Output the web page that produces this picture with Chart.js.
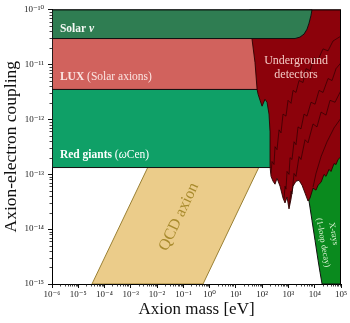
<!DOCTYPE html>
<html>
<head>
<meta charset="utf-8">
<script src="https://cdn.jsdelivr.net/npm/chart.js@4.4.1/dist/chart.umd.min.js"></script>
<style>
  html, body { margin: 0; padding: 0; background: #fff; }
  #wrap { width: 350px; height: 323px; }
</style>
</head>
<body>
<div id="wrap"><canvas id="c"></canvas></div>
<script>
// Axis decades (powers of ten)
const massTickExponents = [-6, -5, -4, -3, -2, -1, 0, 1, 2, 3, 4, 5];
const couplingTickExponents = [-15, -14, -13, -12, -11, -10];

// Excluded regions: outlines in (axion mass [eV], axion-electron coupling)
const solarNuMass     = [1e-6, 1.78e3, 2.75e3, 3.92e3, 5.09e3, 6.07e3, 7.23e3, 7.89e3, 1e-6, 1e-6];
const solarNuCoupling = [2.95e-11, 2.95e-11, 3.13e-11, 3.55e-11, 4.37e-11, 5.6e-11, 7.8e-11, 1e-10, 1e-10, 2.95e-11];

const luxMass     = [1e-6, 1e3, 1e3, 1e-6, 1e-6];
const luxCoupling = [3.49e-12, 3.49e-12, 2.95e-11, 2.95e-11, 3.49e-12];

const redGiantMass     = [1e-6, 1e3, 1e3, 1e-6, 1e-6];
const redGiantCoupling = [1.32e-13, 1.32e-13, 3.49e-12, 3.49e-12, 1.32e-13];

const undergroundMass = [
  34, 1e5, 1e5, 7.71e4, 6.47e4, 5.43e4, 4.17e4, 3.5e4, 2.69e4, 2.26e4, 1.74e4, 1.34e4,
  1.12e4, 8.61e3, 6.62e3, 5.56e3, 4.28e3, 3.29e3, 2.52e3, 1.94e3, 1.49e3, 1.25e3, 1.05e3,
  883, 740, 621, 478, 367, 308, 259, 217, 199, 199, 182, 153, 128, 99, 83, 70, 64, 53.4, 41, 34, 34
];
const undergroundCoupling = [
  1e-10, 1e-10, 2.09e-13, 1.85e-13, 1.5e-13, 1.56e-13, 1.12e-13, 1.22e-13, 9.12e-14, 9.91e-14, 7.13e-14, 6.3e-14,
  5.12e-14, 5.56e-14, 3.67e-14, 3.24e-14, 4.52e-14, 6.3e-14, 7.73e-14, 7.43e-14, 6.04e-14, 3.52e-14, 2.33e-14,
  3.83e-14, 2.99e-14, 3.67e-14, 6.04e-14, 8.39e-14, 6.56e-14, 7.43e-14, 9.12e-14, 1.38e-13, 5.89e-13, 1.24e-12,
  2.04e-12, 2.31e-12, 1.73e-12, 2.21e-12, 2.84e-12, 3.49e-12, 1.07e-11, 2.88e-11, 5.6e-11, 1e-10
];

// Individual detector limits overlapping inside the underground region
const limitAMass = [217, 237, 282, 308, 367, 438, 521, 621, 807, 964, 1253, 1493, 1941, 2523, 3586, 4667,
                    6623, 9397, 1.34e4, 2.07e4, 3.21e4, 4.97e4, 1e5];
const limitACoupling = [1.03e-13, 1.7e-13, 1.5e-13, 3.16e-13, 2.79e-13, 6.4e-13, 5.65e-13, 1.24e-12, 1.14e-12,
                        2.21e-12, 1.95e-12, 3.35e-12, 3.08e-12, 5.07e-12, 4.67e-12, 8.34e-12, 7.67e-12,
                        1.32e-11, 1.21e-11, 1.91e-11, 1.76e-11, 2.66e-11, 3.27e-11];
const limitBMass = [679, 740, 807, 883, 1052, 1148, 1368, 1630, 1941, 2312, 3006, 3920, 5093, 7228,
                    1.03e4, 1.46e4, 2.07e4, 3.21e4, 4.56e4, 6.47e4, 1e5];
const limitBCoupling = [3.52e-14, 6.04e-14, 5.33e-14, 1.12e-13, 9.91e-14, 2.0e-13, 1.85e-13, 3.89e-13, 3.44e-13,
                        7.25e-13, 6.67e-13, 1.24e-12, 1.14e-12, 2.04e-12, 1.88e-12, 3.35e-12, 3.08e-12,
                        5.51e-12, 5.07e-12, 8.34e-12, 1.07e-11];
const limitCMass = [1052, 1253, 1368, 1630, 1941, 2523, 3006, 4275, 5559, 8610, 1.22e4, 1.74e4, 2.69e4,
                    3.82e4, 5.93e4, 1e5];
const limitCCoupling = [2.64e-14, 4.91e-14, 4.34e-14, 1.03e-13, 9.12e-14, 2.09e-13, 1.85e-13, 4.23e-13,
                        3.73e-13, 8.2e-13, 7.25e-13, 1.35e-12, 1.19e-12, 2.21e-12, 2.04e-12, 3.35e-12];
const limitDMass     = [8610, 1.12e4, 1.74e4, 2.94e4, 5.43e4, 1e5];
const limitDCoupling = [5.79e-14, 1.03e-13, 2.09e-13, 3.89e-13, 6.95e-13, 1.05e-12];

const xrayMass     = [1e5, 1e5, 1.9e4, 1.59e4, 1.34e4, 1.03e4, 7.89e3, 6.07e3, 4.28e3, 3e4, 1e5];
const xrayCoupling = [3e-13, 1e-15, 1e-15, 1.64e-15, 2.7e-15, 6.18e-15, 1.42e-14, 3.24e-14, 6.04e-14, 3e-13, 3e-13];

// QCD axion band (coupling grows linearly with mass)
const qcdMass     = [3.33e-5, 0.56, 560, 3.33e-2, 3.33e-5];
const qcdCoupling = [1e-15, 1e-15, 1e-12, 1e-12, 1e-15];

const SERIF = "'Liberation Serif', 'DejaVu Serif', serif";
const SUP = {'-': '\u207B', '0': '\u2070', '1': '\u00B9', '2': '\u00B2', '3': '\u00B3',
             '4': '\u2074', '5': '\u2075', '6': '\u2076', '7': '\u2077', '8': '\u2078', '9': '\u2079'};
const powerLabel = v => '10' + String(Math.round(Math.log10(v))).split('').map(ch => SUP[ch]).join('');

const pts = (m, g) => m.map((v, i) => ({x: v, y: g[i]}));
const region = (label, m, g, fillColor, lineColor, width) => ({
  label, data: pts(m, g), showLine: true, fill: 'shape', tension: 0,
  backgroundColor: fillColor, borderColor: lineColor, borderWidth: width,
  pointRadius: 0, pointHoverRadius: 0
});
const limit = (label, m, g) => ({
  label, data: pts(m, g), showLine: true, fill: false, tension: 0,
  borderColor: 'rgba(35,0,0,0.7)', borderWidth: 0.9, pointRadius: 0, pointHoverRadius: 0
});

// Minor ticks, plot frame and in-plot labels
const decor = {
  id: 'decor',
  afterDatasetsDraw(chart) {
    const {ctx, chartArea: a, scales: {x, y}} = chart;
    ctx.save();
    ctx.strokeStyle = '#111';
    ctx.lineWidth = 0.8;
    ctx.beginPath();
    for (let n = massTickExponents[0]; n < massTickExponents[massTickExponents.length - 1]; n++) {
      for (let k = 2; k <= 9; k++) {
        const px = Math.round(x.getPixelForValue(k * 10 ** n)) + 0.5;
        ctx.moveTo(px, a.bottom); ctx.lineTo(px, a.bottom + 2.5);
      }
    }
    for (let n = couplingTickExponents[0]; n < couplingTickExponents[couplingTickExponents.length - 1]; n++) {
      for (let k = 2; k <= 9; k++) {
        const py = Math.round(y.getPixelForValue(k * 10 ** n)) + 0.5;
        ctx.moveTo(a.left - 2.5, py); ctx.lineTo(a.left, py);
      }
    }
    ctx.stroke();

    ctx.strokeStyle = '#000';
    ctx.lineWidth = 1;
    ctx.beginPath();
    ctx.moveTo(a.left, a.top + 0.5); ctx.lineTo(a.right - 0.5, a.top + 0.5); ctx.lineTo(a.right - 0.5, a.bottom);
    ctx.stroke();

    const runs = (parts, px, py) => {
      for (const [text, font, color] of parts) {
        ctx.font = font; ctx.fillStyle = color;
        ctx.fillText(text, px, py);
        px += ctx.measureText(text).width;
      }
    };
    ctx.textBaseline = 'middle';
    ctx.textAlign = 'left';
    const lx = x.getPixelForValue(2e-6);
    runs([['Solar ', 'bold 11.5px ' + SERIF, '#f4f8f4'], ['\u03BD', 'bold italic 11.5px ' + SERIF, '#f4f8f4']],
         lx, y.getPixelForValue(4.37e-11));
    runs([['LUX', 'bold 11.5px ' + SERIF, '#fbe4e1'], [' (Solar axions)', '11.5px ' + SERIF, '#fbe4e1']],
         lx, y.getPixelForValue(5.98e-12));
    runs([['Red giants', 'bold 11.5px ' + SERIF, '#ffffff'], [' (', '11.5px ' + SERIF, '#ffffff'],
          ['\u03C9', 'italic 11.5px ' + SERIF, '#ffffff'], ['Cen)', '11.5px ' + SERIF, '#ffffff']],
         lx, y.getPixelForValue(2.27e-13));

    ctx.textAlign = 'center';
    ctx.font = '12px ' + SERIF;
    ctx.fillStyle = '#f2c9c4';
    ctx.fillText('Underground', x.getPixelForValue(1.94e3), y.getPixelForValue(1.16e-11));
    ctx.fillText('detectors', x.getPixelForValue(1.94e3), y.getPixelForValue(6.5e-12));

    // QCD label follows the slope of the band
    const ang = Math.atan2(y.getPixelForValue(1e-13) - y.getPixelForValue(1e-14),
                           x.getPixelForValue(10) - x.getPixelForValue(1));
    ctx.save();
    ctx.translate(x.getPixelForValue(0.068), y.getPixelForValue(1.67e-14));
    ctx.rotate(ang);
    ctx.font = '16px ' + SERIF;
    ctx.fillStyle = '#a88a2c';
    ctx.fillText('QCD axion', 0, 0);
    ctx.restore();

    ctx.font = '8.5px ' + SERIF;
    ctx.fillStyle = '#dff3d6';
    const xr = 80 * Math.PI / 180;
    ctx.save();
    ctx.translate(x.getPixelForValue(5.2e4), y.getPixelForValue(8.26e-15));
    ctx.rotate(xr);
    ctx.fillText('X-rays', 0, 0);
    ctx.restore();
    ctx.save();
    ctx.translate(x.getPixelForValue(2.07e4), y.getPixelForValue(5.69e-15));
    ctx.rotate(xr);
    ctx.fillText('(1-loop decay)', 0, 0);
    ctx.restore();
    ctx.restore();
  }
};

new Chart(document.getElementById('c'), {
  type: 'scatter',
  data: {
    datasets: [
      region('Solar \u03BD', solarNuMass, solarNuCoupling, '#2f7d52', '#111', 1),
      limit('Detector A', limitAMass, limitACoupling),
      limit('Detector B', limitBMass, limitBCoupling),
      limit('Detector C', limitCMass, limitCCoupling),
      limit('Detector D', limitDMass, limitDCoupling),
      region('Underground detectors', undergroundMass, undergroundCoupling, '#8c020b', '#2a0000', 0.9),
      region('X-rays (1-loop decay)', xrayMass, xrayCoupling, '#0a8a1e', '#111', 1),
      region('LUX (Solar axions)', luxMass, luxCoupling, '#d1625d', '#111', 1),
      region('Red giants', redGiantMass, redGiantCoupling, '#0fa067', '#111', 1),
      region('QCD axion', qcdMass, qcdCoupling, '#ebcc8a', '#9a8034', 1)
    ]
  },
  options: {
    responsive: true,
    maintainAspectRatio: false,
    animation: false,
    events: [],
    layout: { padding: { top: 6, right: 9, left: 0, bottom: 0 } },
    plugins: { legend: { display: false }, tooltip: { enabled: false } },
    scales: {
      x: {
        type: 'logarithmic',
        position: 'bottom',
        min: 1e-6, max: 1e5,
        afterBuildTicks: s => { s.ticks = massTickExponents.map(e => ({value: 10 ** e})); },
        afterFit: s => { s.height = 39; },
        ticks: {
          autoSkip: false, maxRotation: 0, padding: 1,
          font: { family: SERIF, size: 9 }, color: '#222',
          callback: v => powerLabel(v)
        },
        grid: { drawOnChartArea: false, drawTicks: true, tickLength: 4, tickColor: '#111', tickWidth: 1 },
        border: { display: true, color: '#000', width: 1 },
        title: {
          display: true, text: 'Axion mass [eV]', color: '#111',
          font: { family: SERIF, size: 17 }, padding: { top: 0, bottom: 3 }
        }
      },
      y: {
        type: 'logarithmic',
        position: 'left',
        min: 1e-15, max: 1e-10,
        afterBuildTicks: s => { s.ticks = couplingTickExponents.map(e => ({value: 10 ** e})); },
        afterFit: s => { s.width = 52; },
        ticks: {
          autoSkip: false, padding: 4,
          font: { family: SERIF, size: 9 }, color: '#222',
          callback: v => powerLabel(v)
        },
        grid: { drawOnChartArea: false, drawTicks: true, tickLength: 4, tickColor: '#111', tickWidth: 1 },
        border: { display: true, color: '#000', width: 1 },
        title: {
          display: true, text: 'Axion-electron coupling', color: '#111',
          font: { family: SERIF, size: 17.5 }, padding: { top: 1, bottom: 0 }
        }
      }
    }
  },
  plugins: [decor]
});
</script>
</body>
</html>
